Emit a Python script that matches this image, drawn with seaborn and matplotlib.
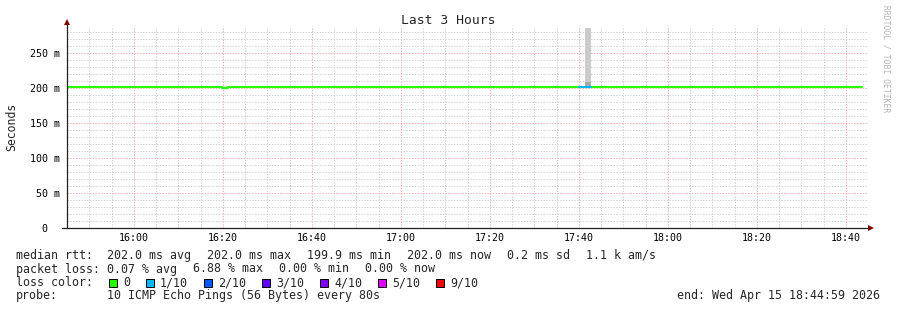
import matplotlib
matplotlib.use("Agg")
import matplotlib.pyplot as plt
import matplotlib.transforms as mtransforms
from matplotlib.patches import Rectangle
from matplotlib.ticker import MultipleLocator, FixedLocator
import seaborn as sns
import pandas as pd

# ---------------- data ----------------
view_start = "15:45:00"
view_end = "18:45:00"
seg_start = ["15:45:00", "16:18:30", "16:19:50", "16:21:10", "17:40:00", "17:42:40"]
seg_end_last = "18:43:40"
median_ms = [202.0, 201.0, 199.9, 202.0, 202.0, 202.0]
loss_of_10 = [0, 0, 0, 0, 1, 0]

smoke_start = "17:41:20"
smoke_end = "17:42:40"
smoke_inner = [202.0, 208.5]   # bottom, top (ms)
smoke_outer = [208.5, 285.7]   # bottom, top (ms)

x_tick_labels = ["16:00", "16:20", "16:40", "17:00", "17:20", "17:40", "18:00", "18:20", "18:40"]
y_tick_values = [0, 50, 100, 150, 200, 250]
y_tick_labels = ["0", "50 m", "100 m", "150 m", "200 m", "250 m"]

loss_labels = ["0", "1/10", "2/10", "3/10", "4/10", "5/10", "9/10"]
loss_colors = ["#26ff00", "#00b8ff", "#0059ff", "#5e00ff", "#7e00ff", "#dd00ff", "#ff0000"]

title = "Last 3 Hours"
ylabel = "Seconds"
legend_rtt = ["median rtt:  202.0 ms avg", "202.0 ms max", "199.9 ms min",
              "202.0 ms now", "0.2 ms sd", "1.1 k am/s"]
legend_loss = ["packet loss: 0.07 % avg", "6.88 % max", "0.00 % min", "0.00 % now"]
legend_color_title = "loss color:"
legend_probe = ["probe:", "10 ICMP Echo Pings (56 Bytes) every 80s"]
legend_end = "end: Wed Apr 15 18:44:59 2026"
watermark = "RRDTOOL / TOBI OETIKER"

# ---------------- helpers ----------------
def to_min(s):
    h, m, *rest = [int(v) for v in s.split(":")]
    sec = rest[0] if rest else 0
    return h * 60 + m + sec / 60.0

t0 = to_min(view_start)
def rel(s):
    return to_min(s) - t0

W, H = 897, 310
def fx(x):
    return x / W
def fy(y):
    return 1 - y / H

sns.set_style("white")
plt.rcParams["font.family"] = ["DejaVu Sans Mono"]

fig = plt.figure(figsize=(W / 100, H / 100), dpi=100)
fig.patch.set_facecolor("white")
ax = fig.add_axes([fx(67), fy(228), (868 - 67) / W, (228 - 26) / H])
ax.set_facecolor("white")

# ---------------- build runs of same loss colour ----------------
ends = seg_start[1:] + [seg_end_last]
rows = []
run = 0
for i, (s, e, v, l) in enumerate(zip(seg_start, ends, median_ms, loss_of_10)):
    if i > 0 and l != loss_of_10[i - 1]:
        run += 1
    rows.append(dict(t=rel(s), ms=v, loss=l, run=run))
    last_of_run = (i == len(seg_start) - 1) or (loss_of_10[i + 1] != l)
    if last_of_run:
        rows.append(dict(t=rel(e), ms=v, loss=l, run=run))
df = pd.DataFrame(rows)

# smoke
s0, s1 = rel(smoke_start), rel(smoke_end)
ax.bar([s0], [smoke_outer[1] - smoke_outer[0]], bottom=[smoke_outer[0]], width=s1 - s0,
       align="edge", color="#cbcbcb", linewidth=0, zorder=2)
ax.bar([s0], [smoke_inner[1] - smoke_inner[0]], bottom=[smoke_inner[0]], width=s1 - s0,
       align="edge", color="#a9a9a9", linewidth=0, zorder=2)

for l, sub in df.groupby("loss"):
    sns.lineplot(data=sub, x="t", y="ms", units="run", estimator=None,
                 color=loss_colors[l], drawstyle="steps-post", linewidth=1.5,
                 ax=ax, legend=False, zorder=3)

ax.set_xlabel("")
ax.set_ylabel("")
ax.set_xlim(0, rel(view_end))
ax.set_ylim(0, (228 - 26) / 0.7)

# ticks & grid
ax.xaxis.set_major_locator(FixedLocator([rel(t + ":00") for t in x_tick_labels]))
ax.set_xticklabels(x_tick_labels)
ax.xaxis.set_minor_locator(MultipleLocator(5))
ax.yaxis.set_major_locator(FixedLocator(y_tick_values))
ax.set_yticklabels(y_tick_labels)
ax.yaxis.set_minor_locator(MultipleLocator(10))

ax.grid(which="minor", color="#d2d2d2", linestyle=(0, (1.4, 1.4)), linewidth=0.72, zorder=0)
ax.grid(which="major", color="#f5b0b0", linestyle=(0, (1.4, 1.4)), linewidth=0.72, zorder=0)
ax.set_axisbelow(True)

ax.tick_params(axis="both", which="both", direction="out", length=2.2, width=0.7,
               color="#555555", labelsize=7.2, labelcolor="black")
ax.tick_params(axis="y", which="both", pad=2.9)
ax.tick_params(axis="x", which="both", pad=1.6)

for sp in ax.spines.values():
    sp.set_visible(False)

# move the "0" label left like rrdtool
lab0 = ax.get_yticklabels()[0]
lab0.set_transform(lab0.get_transform() + mtransforms.ScaledTranslation(-13 / 100, 0, fig.dpi_scale_trans))

# axis lines with arrows
ax.plot([0, 0], [0, (228 - 23) / 202], transform=ax.transAxes, clip_on=False,
        color="#202020", linewidth=0.9, zorder=5)
ax.plot([-5 / 801, 1.0], [0, 0], transform=ax.transAxes, clip_on=False,
        color="#202020", linewidth=0.9, zorder=5)
ax.plot([0], [(228 - 22) / 202], marker="^", markersize=4.5, color="#7f0000",
        transform=ax.transAxes, clip_on=False, zorder=6, markeredgewidth=0)
ax.plot([(871 - 67) / 801], [0], marker=">", markersize=4.5, color="#7f0000",
        transform=ax.transAxes, clip_on=False, zorder=6, markeredgewidth=0)

# ---------------- texts ----------------
fig.text(fx(448), fy(24), title, ha="center", va="baseline", fontsize=9.4)
fig.text(fx(11.5), fy(127), ylabel, ha="center", va="center", rotation=90, fontsize=8.3)
fig.text(fx(886), fy(59), watermark, ha="center", va="center", rotation=270,
         fontsize=5.8, color="#b4b4b4")

fs = 8.37
CW = 7.0     # monospace character advance in px
GAP = 16.0   # rrdtool legend item spacing in px

def legend_row(items, y, x=16.0):
    for it in items:
        fig.text(fx(x), fy(y), it, ha="left", va="baseline", fontsize=fs)
        x += len(it) * CW + GAP
    return x

legend_row(legend_rtt, 259)
legend_row(legend_loss, 272.5)
bx = legend_row([legend_color_title], 286)
for lab, c in zip(loss_labels, loss_colors):
    fig.add_artist(Rectangle((fx(bx), fy(287)), 8 / W, 8 / H, transform=fig.transFigure,
                             facecolor=c, edgecolor="black", linewidth=0.7))
    fig.text(fx(bx + 14), fy(286), lab, ha="left", va="baseline", fontsize=fs)
    bx = bx + 14 + len(lab) * CW + GAP
fig.text(fx(16), fy(299.5), legend_probe[0], ha="left", va="baseline", fontsize=fs)
fig.text(fx(107), fy(299.5), legend_probe[1], ha="left", va="baseline", fontsize=fs)
fig.text(fx(880), fy(299.5), legend_end, ha="right", va="baseline", fontsize=fs)

fig.savefig("out.png", dpi=100, facecolor="white")
